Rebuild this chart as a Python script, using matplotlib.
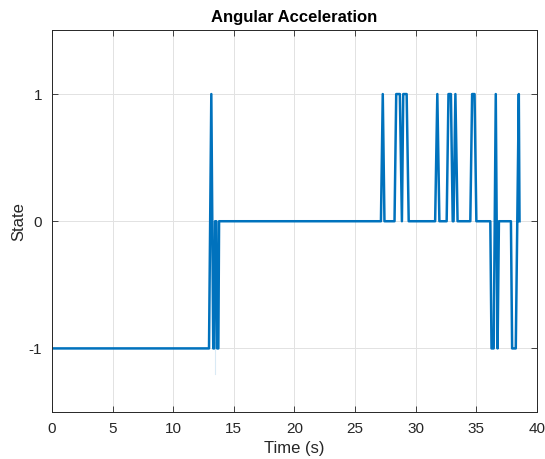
import numpy as np
import matplotlib.pyplot as plt

plt.rcParams['font.family'] = ['Liberation Sans', 'DejaVu Sans']

# state trace (time in s, state in -1/0/1)
t = [0, 12.95, 13.14, 13.3, 13.38, 13.45, 13.55, 13.62, 13.72, 13.78,
     27.13, 27.28, 27.42,
     28.25, 28.39, 28.69, 28.86, 28.97, 29.25, 29.42,
     31.6, 31.78, 31.95,
     32.55, 32.7, 32.9, 33.05, 33.12, 33.27, 33.45,
     34.5, 34.65, 34.85, 35.0,
     36.15, 36.25, 36.43, 36.6, 36.75, 36.86,
     37.85, 37.95, 38.25, 38.5, 38.56]
state = [-1, -1, 1, -1, -1, 0, 0, -1, -1, 0,
         0, 1, 0,
         0, 1, 1, 0, 1, 1, 0,
         0, 1, 0,
         0, 1, 1, 0, 0, 1, 0,
         0, 1, 1, 0,
         0, -1, -1, 1, -1, 0,
         0, -1, -1, 1, 0]

# faint transient near the first switch
t_glitch = [13.42, 13.42]
v_glitch = [-0.95, -1.2]

xticks = [0, 5, 10, 15, 20, 25, 30, 35, 40]
yticks = [-1, 0, 1]

fig = plt.figure(figsize=(5.45, 4.59), dpi=100)
ax = fig.add_axes([0.0954, 0.1024, 0.8899, 0.8312])

ax.plot(t_glitch, v_glitch, color='#0072BD', linewidth=0.8, alpha=0.15)
ax.plot(t, state, color='#0072BD', linewidth=1.8)

ax.set_xlim(0, 40)
ax.set_ylim(-1.5, 1.5)
ax.set_xticks(xticks)
ax.set_yticks(yticks)
ax.set_xticklabels([str(v) for v in xticks])
ax.set_yticklabels([str(v) for v in yticks])

ax.grid(True, color='#e2e2e2', linewidth=0.7)
ax.set_axisbelow(True)
ax.tick_params(direction='in', length=4, width=0.6, color='#262626',
               labelsize=11, top=True, right=True, labelcolor='#262626', pad=7)
for s in ax.spines.values():
    s.set_color('#262626')
    s.set_linewidth(0.7)

ax.set_title('Angular Acceleration', fontsize=12, fontweight='bold', pad=6)
ax.set_xlabel('Time (s)', fontsize=12, color='#262626', labelpad=4)
ax.set_ylabel('State', fontsize=12, color='#262626', labelpad=2)

fig.savefig('out.png', dpi=100)
